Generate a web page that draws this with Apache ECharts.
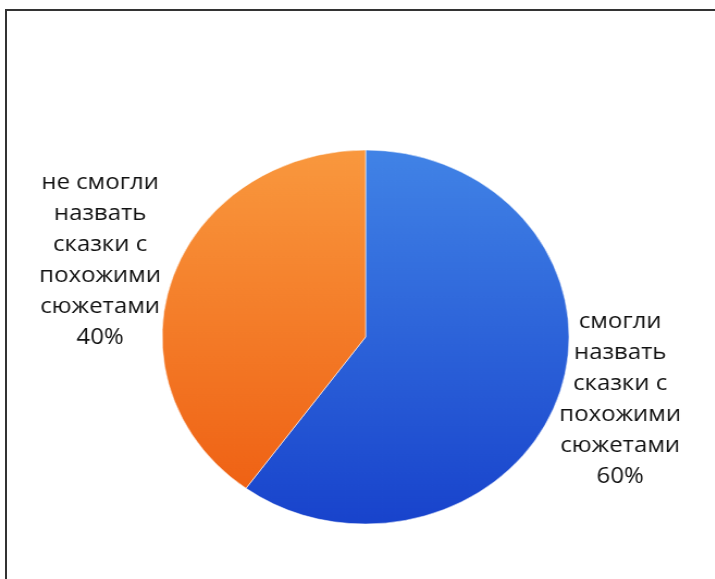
<!DOCTYPE html>
<html>
<head>
<meta charset="utf-8">
<script src="https://cdn.jsdelivr.net/npm/echarts@6/dist/echarts.min.js"></script>
<style>
  html, body { margin: 0; padding: 0; background: #fff; width: 715px; height: 579px; overflow: hidden; }
  #frame { position: absolute; left: 5px; top: 9px; width: 720px; height: 580px;
           border-top: 2px solid #333; border-left: 2px solid #333; box-sizing: border-box; }
  #chart { position: absolute; left: 0; top: 0; width: 657px; height: 579px;
           transform: scaleX(1.088); transform-origin: 0 0; }
</style>
</head>
<body>
<div id="frame"></div>
<div id="chart"></div>
<script>
const categories = ['смогли\nназвать\nсказки с\nпохожими\nсюжетами', 'не смогли\nназвать\nсказки с\nпохожими\nсюжетами'];
const values = [60, 40];
const sliceColors = [
  ['#4183e6', '#1843cc'],
  ['#f9983e', '#ee5c10']
];

const chart = echarts.init(document.getElementById('chart'), null, { renderer: 'canvas' });
const cx = 336, cy = 337, r = 187;
const data = categories.map((c, i) => ({
  name: c,
  value: values[i],
  itemStyle: {
    color: new echarts.graphic.LinearGradient(0, cy - r, 0, cy + r, [
      { offset: 0, color: sliceColors[i][0] },
      { offset: 1, color: sliceColors[i][1] }
    ], true)
  }
}));
const labelPos = [[570, 399], [92, 260]];
chart.setOption({
  animation: false,
  series: [{
    type: 'pie',
    center: [cx, cy],
    radius: [0, r],
    startAngle: 90,
    clockwise: true,
    data: data,
    itemStyle: { borderColor: 'rgba(255,255,255,0.55)', borderWidth: 1 },
    label: {
      show: true,
      position: 'outside',
      formatter: p => p.name + '\n' + Math.round(p.percent) + '%',
      fontFamily: 'Open Sans',
      fontSize: 22,
      lineHeight: 31,
      color: '#111',
      align: 'center',
      overflow: 'none',
      width: 170
    },
    labelLine: { show: false },
    labelLayout: function (p) {
      const pos = labelPos[p.dataIndex];
      return { x: pos[0], y: pos[1], align: 'center', verticalAlign: 'middle' };
    }
  }]
});
</script>
</body>
</html>
